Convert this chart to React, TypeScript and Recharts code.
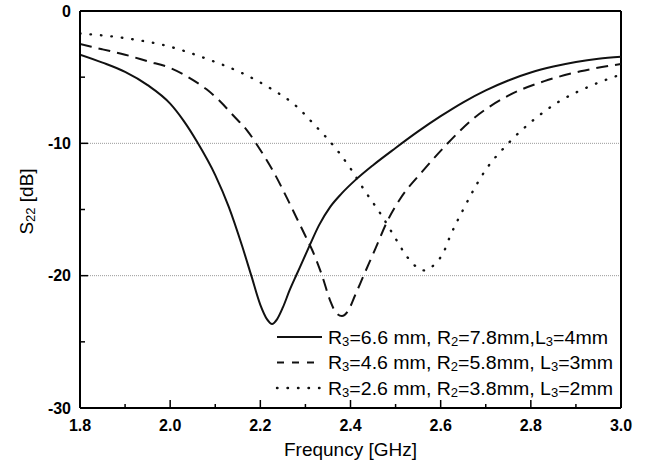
import React from "react";
import { LineChart, Line, XAxis, YAxis, ReferenceLine } from "recharts";

// Series 1: R3=6.6 mm, R2=7.8mm, L3=4mm (solid)
const freq1 = [1.8, 1.85, 1.9, 1.95, 2.0, 2.03, 2.06, 2.1, 2.13, 2.16, 2.18, 2.2, 2.215, 2.226, 2.237, 2.25, 2.265, 2.282, 2.307, 2.33, 2.355, 2.38, 2.41, 2.45, 2.5, 2.55, 2.6, 2.65, 2.7, 2.75, 2.8, 2.85, 2.9, 2.95, 3.0];
const s1 = [-3.3, -3.9, -4.6, -5.6, -7.0, -8.3, -9.9, -12.4, -14.8, -17.8, -20.0, -22.2, -23.3, -23.65, -23.3, -22.4, -21.1, -19.8, -17.9, -16.2, -14.8, -13.8, -12.8, -11.65, -10.35, -9.1, -7.95, -6.9, -6.0, -5.25, -4.65, -4.2, -3.85, -3.6, -3.45];

// Series 2: R3=4.6 mm, R2=5.8mm, L3=3mm (dashed)
const freq2 = [1.8, 1.85, 1.9, 1.95, 2.0, 2.05, 2.08, 2.11, 2.14, 2.17, 2.2, 2.23, 2.26, 2.28, 2.3, 2.315, 2.337, 2.355, 2.368, 2.381, 2.394, 2.41, 2.429, 2.456, 2.48, 2.51, 2.56, 2.61, 2.67, 2.75, 2.83, 2.91, 3.0];
const s2 = [-2.5, -2.9, -3.3, -3.8, -4.3, -5.2, -5.9, -6.8, -7.9, -9.0, -10.5, -12.2, -14.2, -15.6, -17.0, -18.06, -20.0, -21.9, -22.8, -23.05, -22.7, -21.5, -20.0, -17.9, -16.0, -14.2, -12.1, -10.2, -8.2, -6.4, -5.3, -4.56, -4.0];

// Series 3: R3=2.6 mm, R2=3.8mm, L3=2mm (dotted)
const freq3 = [1.8, 1.9, 2.0, 2.08, 2.16, 2.22, 2.28, 2.32, 2.37, 2.4, 2.43, 2.47, 2.5, 2.518, 2.537, 2.563, 2.589, 2.607, 2.62, 2.65, 2.7, 2.75, 2.8, 2.86, 2.93, 3.0];
const s3 = [-1.7, -2.05, -2.7, -3.6, -4.7, -5.8, -7.2, -8.6, -10.5, -11.9, -13.5, -15.5, -17.2, -18.2, -19.05, -19.6, -19.05, -18.2, -17.1, -15.0, -12.0, -10.0, -8.4, -6.9, -5.7, -4.8];

const xTicks = [1.8, 1.9, 2.0, 2.1, 2.2, 2.3, 2.4, 2.5, 2.6, 2.7, 2.8, 2.9, 3.0];
const yTicks = [0, -5, -10, -15, -20, -25, -30];
const gridLevels = [-10, -20];

const legendParts = [
  ["R", "3", "=6.6 mm, R", "2", "=7.8mm,L", "3", "=4mm"],
  ["R", "3", "=4.6 mm, R", "2", "=5.8mm, L", "3", "=3mm"],
  ["R", "3", "=2.6 mm, R", "2", "=3.8mm, L", "3", "=2mm"],
];
const legendWidths = [280, 285, 285];

const FONT = "'Liberation Sans', Arial, sans-serif";

const X_MIN = 1.8;
const X_MAX = 3.0;
const Y_MIN = -30;
const Y_MAX = 0;
// tick mark lengths expressed in axis units (plot is 540px x 397px)
const XT_MAJOR = (8 / 397) * 30;
const XT_MINOR = (4 / 397) * 30;
const YT_MAJOR = (8 / 540) * 1.2;
const YT_MINOR = (5 / 540) * 1.2;

const zip = (xs: number[], ys: number[]) => xs.map((f, i) => ({ f, v: ys[i] }));
const data1 = zip(freq1, s1);
const data2 = zip(freq2, s2);
const data3 = zip(freq3, s3);

const XTick = (props: any) => {
  const { x, y, payload } = props;
  const v = payload.value as number;
  const major = Math.round(v * 10) % 2 === 0;
  if (!major) return <g />;
  return (
    <text x={x} y={y + 23} textAnchor="middle" fontWeight="bold" fontSize={16} fontFamily={FONT} fill="#000">
      {v.toFixed(1)}
    </text>
  );
};

const YTick = (props: any) => {
  const { x, y, payload } = props;
  const v = payload.value as number;
  const major = v % 10 === 0;
  if (!major) return <g />;
  return (
    <text x={x - 9} y={y + 5.5} textAnchor="end" fontWeight="bold" fontSize={16} fontFamily={FONT} fill="#000">
      {String(v)}
    </text>
  );
};

const XLabel = (props: any) => {
  const vb = props.viewBox || { x: 80, y: 408, width: 540 };
  return (
    <text x={vb.x + vb.width / 2} y={vb.y + 48} textAnchor="middle" fontSize={19} fontFamily={FONT} fill="#000">
      Frequncy [GHz]
    </text>
  );
};

const YLabel = (props: any) => {
  const vb = props.viewBox || { x: 0, y: 11, height: 397 };
  const cx = 33;
  const cy = vb.y + vb.height / 2 - 8;
  return (
    <text x={cx} y={cy} transform={`rotate(-90, ${cx}, ${cy})`} textAnchor="middle" fontSize={19} fontFamily={FONT} fill="#000">
      S<tspan fontSize={13} dy={2}>22</tspan>
      <tspan dy={-2}> [dB]</tspan>
    </text>
  );
};

const legendDashes = [undefined, "7 8", "0.5 10"];

const LegendBox = () => (
  <svg width={370} height={80} style={{ position: "absolute", left: 270, top: 322, display: "block" }}>
    {legendParts.map((p, i) => {
      const cy = 15 + i * 25.5;
      return (
        <g key={i}>
          <line
            x1={7}
            x2={52}
            y1={cy}
            y2={cy}
            stroke="#111"
            strokeWidth={i === 2 ? 2.4 : 2}
            strokeDasharray={legendDashes[i]}
            strokeLinecap={i === 2 ? "round" : "butt"}
          />
          <text
            x={58}
            y={cy + 6.5}
            fontSize={18}
            fontFamily={FONT}
            fill="#000"
            textLength={legendWidths[i]}
            lengthAdjust="spacingAndGlyphs"
          >
            {p[0]}
            <tspan fontSize={12} dy={2}>{p[1]}</tspan>
            <tspan dy={-2}>{p[2]}</tspan>
            <tspan fontSize={12} dy={2}>{p[3]}</tspan>
            <tspan dy={-2}>{p[4]}</tspan>
            <tspan fontSize={12} dy={2}>{p[5]}</tspan>
            <tspan dy={-2}>{p[6]}</tspan>
          </text>
        </g>
      );
    })}
  </svg>
);

export default function App() {
  return (
    <div style={{ position: "absolute", left: 0, top: 0, width: 648, height: 470, background: "#fff" }}>
      <LineChart width={648} height={470} margin={{ top: 11, right: 27, left: 0, bottom: 0 }}>
        <XAxis
          type="number"
          dataKey="f"
          domain={[X_MIN, X_MAX]}
          ticks={xTicks}
          interval={0}
          tickLine={false}
          tickSize={0}
          tickMargin={0}
          tick={<XTick />}
          axisLine={{ stroke: "#000", strokeWidth: 2 }}
          height={62}
          allowDataOverflow
          label={<XLabel />}
        />
        <YAxis
          type="number"
          domain={[Y_MIN, Y_MAX]}
          ticks={yTicks}
          interval={0}
          tickLine={false}
          tickSize={0}
          tickMargin={0}
          tick={<YTick />}
          axisLine={{ stroke: "#000", strokeWidth: 2 }}
          width={80}
          allowDataOverflow
          label={<YLabel />}
        />
        {gridLevels.map((g) => (
          <ReferenceLine key={g} y={g} stroke="#9a9a9a" strokeWidth={1} strokeDasharray="1 1" />
        ))}
        {xTicks.map((t) => {
          const major = Math.round(t * 10) % 2 === 0;
          return (
            <ReferenceLine
              key={"xt" + t}
              segment={[{ x: t, y: Y_MIN }, { x: t, y: Y_MIN + (major ? XT_MAJOR : XT_MINOR) }]}
              stroke="#000"
              strokeWidth={1.5}
            />
          );
        })}
        {yTicks.map((t) => {
          const major = t % 10 === 0;
          return (
            <ReferenceLine
              key={"yt" + t}
              segment={[{ x: X_MIN, y: t }, { x: X_MIN + (major ? YT_MAJOR : YT_MINOR), y: t }]}
              stroke="#000"
              strokeWidth={1.5}
            />
          );
        })}
        <ReferenceLine y={Y_MAX} stroke="#000" strokeWidth={2} />
        <ReferenceLine x={X_MAX} stroke="#000" strokeWidth={2} />
        <Line data={data1} dataKey="v" type="monotone" stroke="#111" strokeWidth={2} dot={false} activeDot={false} isAnimationActive={false} />
        <Line data={data2} dataKey="v" type="monotone" stroke="#111" strokeWidth={2} strokeDasharray="12 7" dot={false} activeDot={false} isAnimationActive={false} />
        <Line data={data3} dataKey="v" type="monotone" stroke="#111" strokeWidth={2.4} strokeLinecap="round" strokeDasharray="0.5 10" dot={false} activeDot={false} isAnimationActive={false} />
      </LineChart>
      <LegendBox />
    </div>
  );
}
